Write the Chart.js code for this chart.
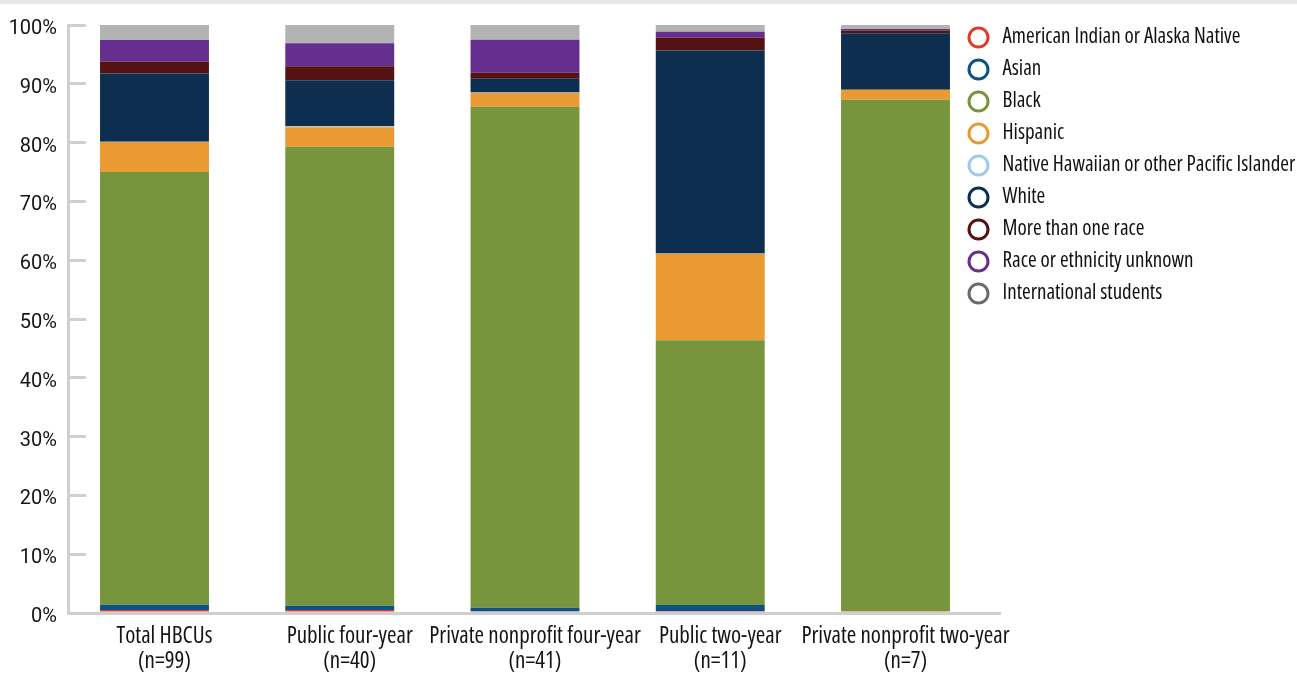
<!DOCTYPE html>
<html lang="en">
<head>
<meta charset="utf-8">
<title>HBCU enrollment by race and ethnicity</title>
<script src="https://cdn.jsdelivr.net/npm/chart.js@4.4.1/dist/chart.umd.min.js"></script>
<style>
  html, body { margin: 0; padding: 0; background: #ffffff; }
  #wrap { position: relative; width: 1297px; height: 673px; }
  #topRule { position: absolute; left: 0; top: 0; width: 100%; height: 4px; background: #e7e7e7; }
  canvas { display: block; }
</style>
</head>
<body>
<div id="wrap">
  <canvas id="chart" width="1297" height="673"></canvas>
  <div id="topRule"></div>
</div>
<script>
// Institution groups and their sample sizes (x-axis, two lines per label)
const categories = ['Total HBCUs', 'Public four-year', 'Private nonprofit four-year', 'Public two-year', 'Private nonprofit two-year'];
const sampleSizes = ['(n=99)', '(n=40)', '(n=41)', '(n=11)', '(n=7)'];

// Percentage axis ticks
const yTicks = [0, 10, 20, 30, 40, 50, 60, 70, 80, 90, 100];

// Share of enrollment (%) by race/ethnicity, one value per institution group
const americanIndian = [0.5, 0.5, 0.3, 0.35, 0.3];
const asian = [0.9, 0.75, 0.6, 1.0, 0.0];
const black = [73.6, 78.05, 85.2, 45.05, 87.0];
const hispanic = [5.1, 3.3, 2.35, 14.7, 1.7];
const nativeHawaiian = [0.05, 0.2, 0.05, 0.05, 0.0];
const white = [11.6, 7.8, 2.35, 34.5, 9.6];
const multiracial = [2.0, 2.4, 1.05, 2.2, 0.45];
const unknownRace = [3.7, 3.9, 5.6, 1.0, 0.25];
const international = [2.55, 3.1, 2.5, 1.15, 0.7];

const seriesNames = [
  'American Indian or Alaska Native', 'Asian', 'Black', 'Hispanic',
  'Native Hawaiian or other Pacific Islander', 'White', 'More than one race',
  'Race or ethnicity unknown', 'International students'
];
const seriesValues = [americanIndian, asian, black, hispanic, nativeHawaiian, white, multiracial, unknownRace, international];
const barColors = ['#e03a2f', '#0b5287', '#77953c', '#ea9a33', '#9dcbea', '#0e2e50', '#541213', '#652f8f', '#b3b3b3'];
const ringColors = ['#e03a2f', '#0b5287', '#77953c', '#ea9a33', '#9dcbea', '#0e2e50', '#541213', '#652f8f', '#6b6b6b'];

// Open Sans is variable in width; "condensed" goes into the canvas font string
const FAMILY = '"Open Sans", Roboto, sans-serif';
const LEGEND_FONT = { family: FAMILY, size: 21, weight: 'condensed', lineHeight: 1.2 };
const CATEGORY_FONT = { family: FAMILY, size: 23, weight: 'condensed', lineHeight: '25px' };
const AXIS_LINE = '#cfcfcf';

// Hollow ring marker used for legend entries
function ring(color) {
  const c = document.createElement('canvas');
  c.width = 25; c.height = 25;
  const g = c.getContext('2d');
  g.beginPath();
  g.arc(12.5, 12.5, 9.5, 0, Math.PI * 2);
  g.fillStyle = '#ffffff';
  g.fill();
  g.lineWidth = 3;
  g.strokeStyle = color;
  g.stroke();
  return c;
}

// Pull the legend column a little into the space over the axis end
const LEGEND_INSET = 46;
const legendShift = {
  id: 'legendShift',
  afterLayout(chart) {
    chart.legend.left = chart.chartArea.right - LEGEND_INSET;
  }
};

const datasets = seriesNames.map((name, i) => ({
  label: name,
  data: seriesValues[i].map((v, k) => ({ x: k, y: v })),
  backgroundColor: barColors[i],
  borderWidth: 0,
  barPercentage: 0.588,
  categoryPercentage: 1.0
}));

new Chart(document.getElementById('chart'), {
  type: 'bar',
  data: { datasets },
  plugins: [legendShift],
  options: {
    responsive: false,
    animation: false,
    devicePixelRatio: 1,
    layout: { padding: { top: 16, left: 0, right: 0, bottom: 0 } },
    plugins: {
      tooltip: { enabled: false },
      legend: {
        position: 'right',
        align: 'start',
        maxWidth: 297,
        labels: {
          usePointStyle: true,
          pointStyleWidth: 27,
          padding: 11,
          color: '#111111',
          font: LEGEND_FONT,
          generateLabels(chart) {
            return chart.data.datasets.map((ds, i) => ({
              text: ds.label,
              fillStyle: '#ffffff',
              strokeStyle: ringColors[i],
              lineWidth: 3,
              pointStyle: ring(ringColors[i]),
              hidden: false,
              datasetIndex: i,
              fontColor: '#111111'
            }));
          }
        }
      }
    },
    scales: {
      x: {
        type: 'linear',
        stacked: true,
        offset: false,
        min: -0.4669,
        max: 4.5641,
        afterBuildTicks(scale) { scale.ticks = categories.map((_, i) => ({ value: i })); },
        afterFit(scale) { scale.height = 60; },
        ticks: {
          callback: (v) => [categories[v], sampleSizes[v]],
          autoSkip: false,
          maxRotation: 0,
          minRotation: 0,
          labelOffset: 10,
          padding: 11,
          color: '#141414',
          font: CATEGORY_FONT
        },
        grid: { display: false, drawTicks: false },
        border: { display: true, color: AXIS_LINE, width: 3 }
      },
      y: {
        stacked: true,
        min: 0,
        max: 100,
        afterBuildTicks(scale) { scale.ticks = yTicks.map((v) => ({ value: v })); },
        afterFit(scale) { scale.width = 68; scale.paddingTop = 25; },
        ticks: {
          callback: (v) => v + '%',
          padding: 29,
          labelOffset: 4,
          color: '#141414',
          font: { family: 'Roboto', size: 20 }
        },
        grid: { drawOnChartArea: false, drawTicks: true, tickLength: -18, color: AXIS_LINE, lineWidth: 3 },
        border: { display: true, color: AXIS_LINE, width: 3 }
      }
    }
  }
});
</script>
</body>
</html>
